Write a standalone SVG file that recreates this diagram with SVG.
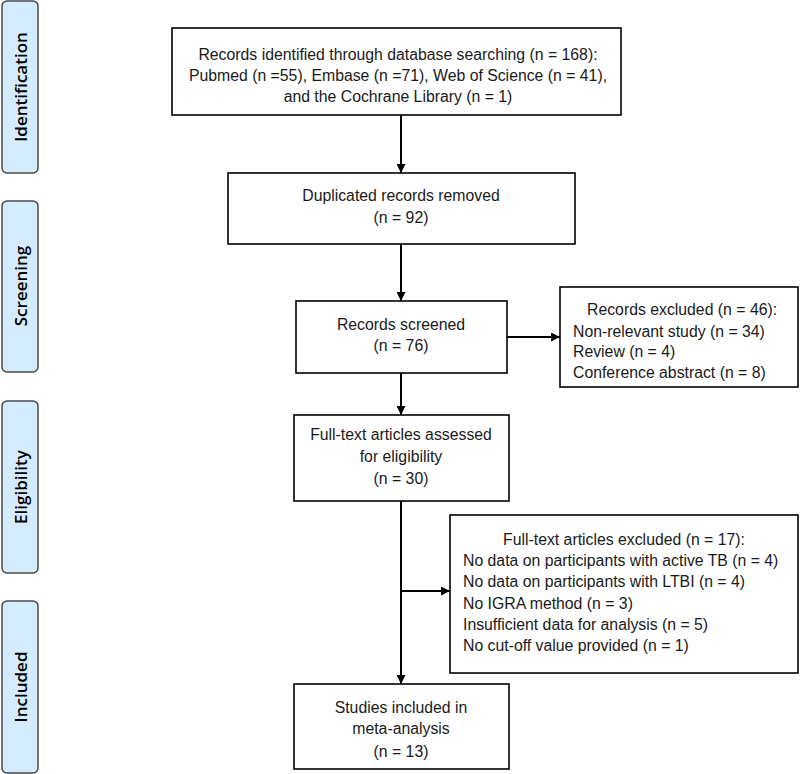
<svg xmlns="http://www.w3.org/2000/svg" width="800" height="774" viewBox="0 0 800 774">
<defs>
<marker id="ah" viewBox="0 0 10 10" refX="10" refY="5" markerWidth="9" markerHeight="9" markerUnits="userSpaceOnUse" orient="auto">
<path d="M0,0 L10,5 L0,10 Z" fill="#000"/>
</marker>
<style>
.stage{fill:#d4ecfd;stroke:#4a4a4a;stroke-width:1.5}
.stxt{font-family:"Open Sans","Liberation Sans",sans-serif;font-size:17px;font-weight:600;fill:#000;text-anchor:middle}
.box{fill:#fff;stroke:#000;stroke-width:1.6}
.t{font-family:"Liberation Sans",Arial,sans-serif;font-size:15.8px;fill:#1a1a1a}
.c{text-anchor:middle}
.conn{stroke:#000;stroke-width:2;fill:none}
</style>
</defs>
<rect width="800" height="774" fill="#fff"/>
<g id="stage-identification"><rect class="stage" x="2" y="1" width="36" height="172" rx="5"/><text class="stxt" transform="translate(27,87) rotate(-90)">Identification</text></g>
<g id="stage-screening"><rect class="stage" x="2" y="201" width="36" height="171" rx="5"/><text class="stxt" transform="translate(27,286) rotate(-90)">Screening</text></g>
<g id="stage-eligibility"><rect class="stage" x="2" y="401" width="36" height="172" rx="5"/><text class="stxt" transform="translate(27,487) rotate(-90)">Eligibility</text></g>
<g id="stage-included"><rect class="stage" x="2" y="601" width="36" height="172" rx="5"/><text class="stxt" transform="translate(27,687) rotate(-90)">Included</text></g>

<g id="connectors">
<line class="conn" x1="401" y1="115" x2="401" y2="173" marker-end="url(#ah)"/>
<line class="conn" x1="401" y1="244" x2="401" y2="301" marker-end="url(#ah)"/>
<line class="conn" x1="401" y1="373" x2="401" y2="415" marker-end="url(#ah)"/>
<line class="conn" x1="507" y1="337" x2="560" y2="337" marker-end="url(#ah)"/>
<line class="conn" x1="401" y1="501" x2="401" y2="684" marker-end="url(#ah)"/>
<line class="conn" x1="401" y1="591" x2="450" y2="591" marker-end="url(#ah)"/>
</g>

<g id="identified"><rect class="box" x="172" y="28" width="449" height="87"/>
<text class="t c" x="398" y="60">Records identified through database searching (n = 168):</text>
<text class="t c" x="398" y="81">Pubmed (n =55), Embase (n =71), Web of Science (n = 41),</text>
<text class="t c" x="398" y="102">and the Cochrane Library (n = 1)</text></g>

<g id="duplicates"><rect class="box" x="228" y="173" width="347" height="71"/>
<text class="t c" x="401" y="201">Duplicated records removed</text>
<text class="t c" x="401" y="223">(n = 92)</text></g>

<g id="screened"><rect class="box" x="296" y="301" width="211" height="72"/>
<text class="t c" x="401" y="330">Records screened</text>
<text class="t c" x="401" y="351">(n = 76)</text></g>

<g id="excluded1"><rect class="box" x="560" y="287" width="238" height="100"/>
<text class="t" x="587" y="315">Records excluded (n = 46):</text>
<text class="t" x="573" y="337">Non-relevant study (n = 34)</text>
<text class="t" x="573" y="357">Review (n = 4)</text>
<text class="t" x="573" y="378">Conference abstract (n = 8)</text></g>

<g id="fulltext"><rect class="box" x="294" y="415" width="215" height="86"/>
<text class="t c" x="401" y="440">Full-text articles assessed</text>
<text class="t c" x="401" y="462">for eligibility</text>
<text class="t c" x="401" y="484">(n = 30)</text></g>

<g id="excluded2"><rect class="box" x="450" y="515" width="348" height="158"/>
<text class="t c" x="624" y="545">Full-text articles excluded (n = 17):</text>
<text class="t" x="463" y="566">No data on participants with active TB (n = 4)</text>
<text class="t" x="463" y="587">No data on participants with LTBI (n = 4)</text>
<text class="t" x="463" y="609">No IGRA method (n = 3)</text>
<text class="t" x="463" y="630">Insufficient data for analysis (n = 5)</text>
<text class="t" x="463" y="651">No cut-off value provided (n = 1)</text></g>

<g id="included"><rect class="box" x="294" y="684" width="215" height="85"/>
<text class="t c" x="401" y="713">Studies included in</text>
<text class="t c" x="401" y="734">meta-analysis</text>
<text class="t c" x="401" y="757">(n = 13)</text></g>
</svg>
